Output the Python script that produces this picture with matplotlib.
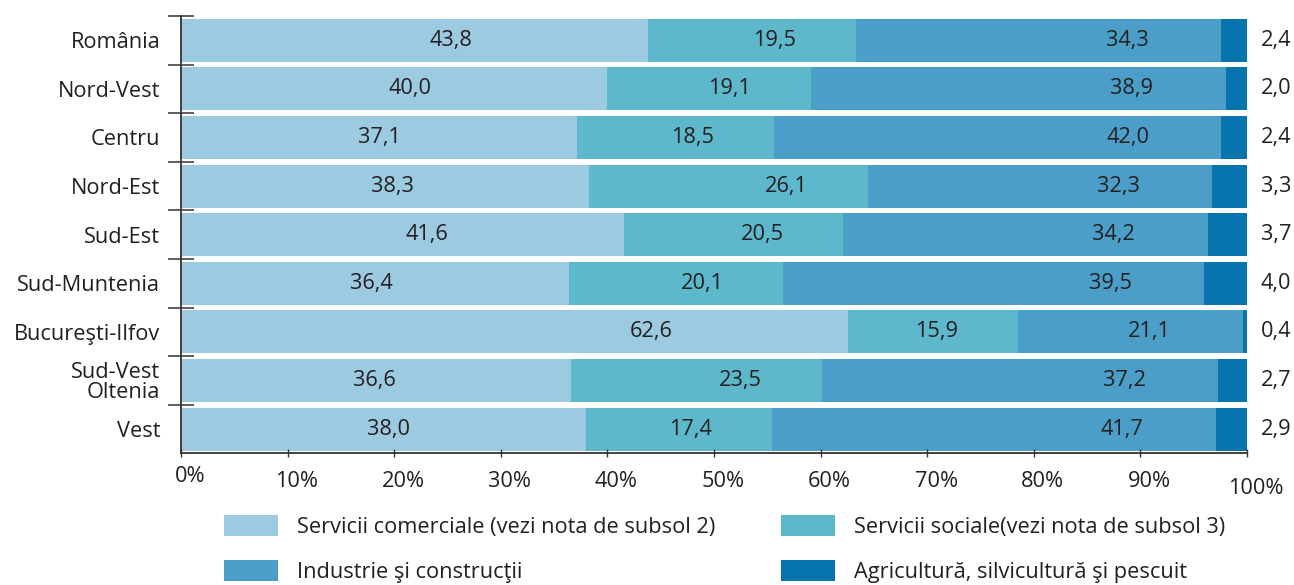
import matplotlib.pyplot as plt
import matplotlib.transforms as mtransforms
import numpy as np
from matplotlib.patches import Patch

plt.rcParams["font.family"] = ["Open Sans", "DejaVu Sans"]

REGIONS = [
    "România",
    "Nord-Vest",
    "Centru",
    "Nord-Est",
    "Sud-Est",
    "Sud-Muntenia",
    "Bucureşti-Ilfov",
    "Sud-Vest\nOltenia",
    "Vest",
]
COMERCIALE = [43.8, 40.0, 37.1, 38.3, 41.6, 36.4, 62.6, 36.6, 38.0]
SOCIALE = [19.5, 19.1, 18.5, 26.1, 20.5, 20.1, 15.9, 23.5, 17.4]
INDUSTRIE = [34.3, 38.9, 42.0, 32.3, 34.2, 39.5, 21.1, 37.2, 41.7]
AGRICULTURA = [2.4, 2.0, 2.4, 3.3, 3.7, 4.0, 0.4, 2.7, 2.9]
SERIES_NAMES = [
    "Servicii comerciale (vezi nota de subsol 2)",
    "Servicii sociale(vezi nota de subsol 3)",
    "Industrie şi construcţii",
    "Agricultură, silvicultură şi pescuit",
]
X_TICKS = [0, 10, 20, 30, 40, 50, 60, 70, 80, 90, 100]

COLORS = ["#9ccae0", "#5cb8ca", "#4a9ec7", "#0874ad"]
TEXT = "#231f20"
FS = 15.7
# labels in the picture sit a fixed distance left of each segment's end
LABEL_SHIFT = [18.5, 7.6, 8.8]


def fmt(v):
    return f"{v:.1f}".replace(".", ",")


fig = plt.figure(figsize=(12.94, 5.85), dpi=100)
ax = fig.add_axes((0.1399, 0.2251, 0.9637 - 0.1399, 0.9726 - 0.2251))

series = [COMERCIALE, SOCIALE, INDUSTRIE, AGRICULTURA]
y = np.arange(len(REGIONS))
left = np.zeros(len(REGIONS))
for i, values in enumerate(series):
    vals = np.array(values)
    ax.barh(y, vals, left=left, height=0.885, color=COLORS[i], linewidth=0)
    right = left + vals
    if i < 3:
        for yi, end, v in zip(y, right, vals):
            ax.text(end - LABEL_SHIFT[i], yi, fmt(v), ha="center", va="center",
                    fontsize=FS, color=TEXT)
    else:
        for yi, v in zip(y, vals):
            ax.text(102.7, yi, fmt(v), ha="center", va="center",
                    fontsize=FS, color=TEXT, clip_on=False)
    left = right

ax.set_xlim(0, 100)
ax.set_ylim(len(REGIONS) - 0.5, -0.5)

for side in ("top", "right"):
    ax.spines[side].set_visible(False)
for side in ("left", "bottom"):
    ax.spines[side].set_color("#333333")
    ax.spines[side].set_linewidth(1.3)

# y: tick marks between rows, labels at row centres
ax.set_yticks(np.arange(len(REGIONS)) - 0.5)
ax.set_yticklabels([])
ax.set_yticks(y, minor=True)
ax.set_yticklabels(REGIONS, minor=True, fontsize=FS, color=TEXT, linespacing=0.95)
ax.tick_params(axis="y", which="major", direction="inout", length=19.4,
               width=1.1, color="#333333")
ax.tick_params(axis="y", which="minor", length=0, pad=15)

ax.set_xticks(X_TICKS, [f"{t}%" for t in X_TICKS])
ax.tick_params(axis="x", direction="inout", length=5.8, width=1.0,
               color="#333333", labelsize=FS, labelcolor=TEXT, pad=9.5)

xlabels = ax.get_xticklabels()
for k, lab in enumerate(xlabels):
    dy = 0
    if k == 0:
        dy = 5
    elif k == len(xlabels) - 1:
        dy = -7
    shift = mtransforms.ScaledTranslation(9 / 100, dy / 100, fig.dpi_scale_trans)
    lab.set_transform(lab.get_transform() + shift)

handles = [Patch(facecolor=c, edgecolor="none") for c in COLORS]
legend_kw = dict(
    loc="upper left",
    frameon=False,
    fontsize=FS,
    handlelength=2.48,
    handleheight=1.1,
    handletextpad=0.87,
    labelspacing=1.02,
    borderpad=0,
    borderaxespad=0,
    labelcolor=TEXT,
)
fig.legend([handles[0], handles[2]], [SERIES_NAMES[0], SERIES_NAMES[2]],
           bbox_to_anchor=(224 / 1294, 1 - 515 / 585), **legend_kw)
fig.legend([handles[1], handles[3]], [SERIES_NAMES[1], SERIES_NAMES[3]],
           bbox_to_anchor=(781 / 1294, 1 - 515 / 585), **legend_kw)

fig.savefig("out.png", dpi=100)
